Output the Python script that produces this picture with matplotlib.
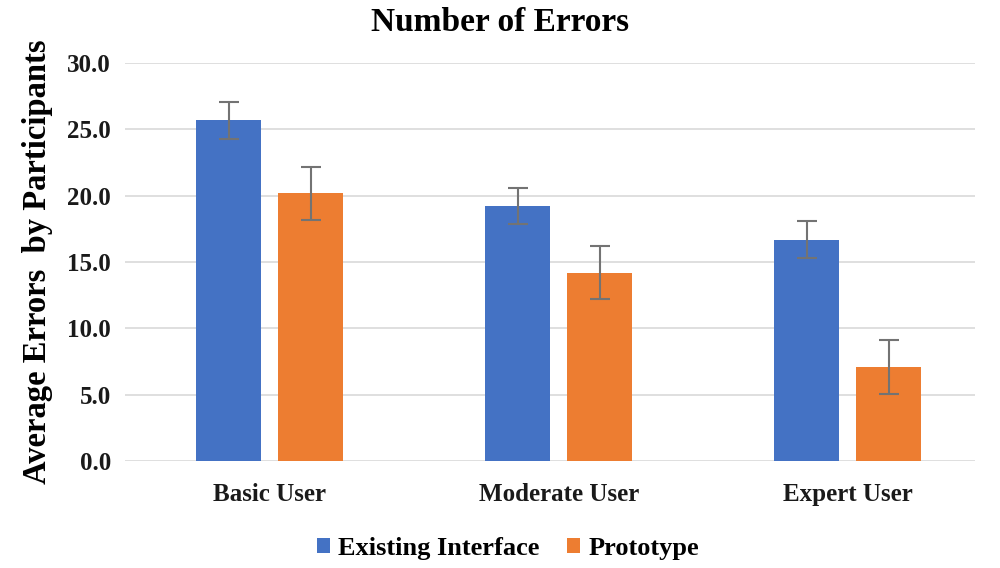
import numpy as np
import matplotlib.pyplot as plt

categories = ["Basic User", "Moderate User", "Expert User"]
existing = [25.7, 19.2, 16.7]
existing_err = [1.4, 1.35, 1.4]
prototype = [20.2, 14.2, 7.1]
prototype_err = [2.0, 2.0, 2.0]

plt.rcParams["font.family"] = ["Liberation Serif", "DejaVu Serif"]
plt.rcParams["font.weight"] = "bold"

fig = plt.figure(figsize=(10, 5.68), dpi=100)
ax = fig.add_axes([0.125, 0.188, 0.85, 0.701])

x = np.arange(len(categories))
w = 0.225
off = 0.142
err_style = dict(ecolor="#737373", elinewidth=1.5, capsize=7, capthick=1.5)

ax.bar(x - off, existing, w, yerr=existing_err, color="#4472C4",
       label="Existing Interface", error_kw=err_style, zorder=2)
ax.bar(x + off, prototype, w, yerr=prototype_err, color="#ED7D31",
       label="Prototype", error_kw=err_style, zorder=2)

ax.set_xlim(-0.5, 2.44)
ax.set_ylim(0, 30)
ax.set_yticks(np.arange(0, 30.1, 5))
ax.set_yticklabels([f"{v:.1f}" for v in np.arange(0, 30.1, 5)])
ax.set_xticks(x)
ax.set_xticklabels(categories)
ax.tick_params(axis="both", length=0, labelsize=18, colors="#1a1a1a")
ax.tick_params(axis="y", pad=10)
ax.tick_params(axis="x", pad=16)
ax.grid(axis="y", color="#d9d9d9", linewidth=1.2, zorder=0)
for s in ax.spines.values():
    s.set_visible(False)

ax.set_ylabel("Average Errors  by Participants", fontsize=23.5, fontweight="bold",
              labelpad=10)
fig.text(0.5, 0.96, "Number of Errors", ha="center", va="center",
         fontsize=24, fontweight="bold")

fig.legend(loc="center", bbox_to_anchor=(0.508, 0.035), ncol=2, frameon=False,
           fontsize=19, handlelength=0.5, handleheight=0.5, columnspacing=1.05,
           handletextpad=0.3)

plt.savefig("out.png")
